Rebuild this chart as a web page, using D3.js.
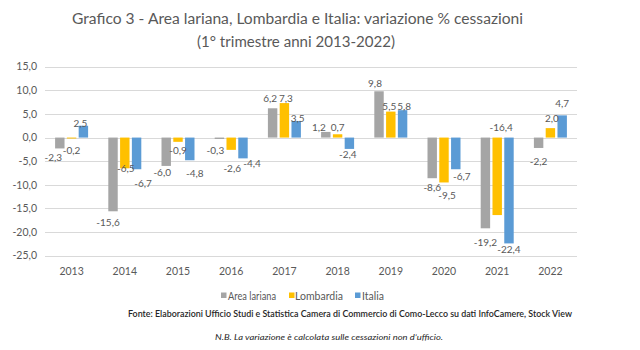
<!DOCTYPE html>
<html>
<head>
<meta charset="utf-8">
<script src="https://cdn.jsdelivr.net/npm/d3@7"></script>
<style>
  html, body { margin: 0; padding: 0; background: #fff; }
  svg { display: block; font-family: Lato, "Open Sans", sans-serif; }
</style>
</head>
<body>
<svg id="chart" width="640" height="350"></svg>
<script>
// ---- data ----
const years = ["2013","2014","2015","2016","2017","2018","2019","2020","2021","2022"];
const seriesNames = ["Area lariana", "Lombardia", "Italia"];
const areaLariana = [-2.3, -15.6, -6.0, -0.3, 6.2, 1.2, 9.8, -8.6, -19.2, -2.2];
const lombardia   = [-0.2, -6.5, -0.9, -2.6, 7.3, 0.7, 5.5, -9.5, -16.4, 2.0];
const italia      = [2.5, -6.7, -4.8, -4.4, 3.5, -2.4, 5.8, -6.7, -22.4, 4.7];
const yTicks = [-25, -20, -15, -10, -5, 0, 5, 10, 15];
const titleLines = ["Grafico 3 - Area lariana, Lombardia e Italia: variazione % cessazioni",
                    "(1° trimestre anni 2013-2022)"];
const sourceNote = "Fonte: Elaborazioni Ufficio Studi e Statistica Camera di Commercio di Como-Lecco su dati InfoCamere, Stock View";
const nbNote = "N.B. La variazione è calcolata sulle cessazioni non d’ufficio.";

// ---- layout / style ----
const colors = ["#A5A5A5", "#FFC000", "#5B9BD5"];
const textColor = "#595959";
// manual label nudges (px) relative to bar centre / bar end, mimicking the source layout
const labelNudge = [
  { dx: [-6.5,-5,-4,-4,-2.5,-7,-4,0,0,0], dy: [9,11,7,12,-10,-4,-8,9,14,14] },
  { dx: [0,1,0,1,1.5,0,-1.5,3,4,1.5],     dy: [12,0,9,19,-4.5,-7,-5,13,-87.5,-10] },
  { dx: [-3,6.5,5,9,1.5,-1.5,1.5,6,0,0],  dy: [-2,14,13,5,-2.5,6,-4,7,6,-12] }
];

const svg = d3.select("#chart");
const values = [areaLariana, lombardia, italia];

const x = d3.scaleBand().domain(years).range([45, 577]).padding(0);
const groupW = 33;
const xs = d3.scaleBand().domain(seriesNames).range([-groupW/2, groupW/2]).paddingInner(0.2);
const y = d3.scaleLinear().domain([-25, 15]).range([255.7, 66.7]);

// gridlines
svg.append("g").selectAll("line").data(yTicks).join("line")
  .attr("x1", 45).attr("x2", 577)
  .attr("y1", d => Math.round(y(d)) + 0.5).attr("y2", d => Math.round(y(d)) + 0.5)
  .attr("stroke", "#D9D9D9").attr("stroke-width", 1);

// y axis labels
const fmt = d => d3.format(".1f")(d).replace(".", ",").replace("−", "-");
svg.append("g").selectAll("text").data(yTicks).join("text")
  .attr("x", 37).attr("y", d => y(d)).attr("dy", "0.35em")
  .attr("text-anchor", "end").attr("font-size", 10.5).attr("fill", textColor)
  .text(fmt);

// x axis labels
svg.append("g").selectAll("text").data(years).join("text")
  .attr("x", d => x(d) + x.bandwidth()/2).attr("y", 271).attr("dy", "0.35em")
  .attr("text-anchor", "middle").attr("font-size", 10.5).attr("fill", textColor)
  .text(d => d);

// bars
const barData = [];
seriesNames.forEach((s, si) => years.forEach((yr, i) => barData.push({ s, si, yr, i, v: values[si][i] })));

svg.append("g").selectAll("rect").data(barData).join("rect")
  .attr("x", d => x(d.yr) + x.bandwidth()/2 + xs(d.s))
  .attr("width", xs.bandwidth())
  .attr("y", d => Math.min(y(d.v), y(0)))
  .attr("height", d => Math.abs(y(d.v) - y(0)))
  .attr("fill", d => colors[d.si]);

// data labels
svg.append("g").selectAll("text").data(barData).join("text")
  .attr("x", d => x(d.yr) + x.bandwidth()/2 + xs(d.s) + xs.bandwidth()/2 + labelNudge[d.si].dx[d.i])
  .attr("y", d => y(d.v) + labelNudge[d.si].dy[d.i])
  .attr("dy", "0.35em")
  .attr("text-anchor", "middle").attr("font-size", 10).attr("fill", textColor)
  .text(d => fmt(d.v));

// title
function fitText(sel, w) {
  sel.attr("textLength", w).attr("lengthAdjust", "spacingAndGlyphs");
}
svg.append("text").attr("x", 297.5).attr("y", 24).attr("text-anchor", "middle")
  .attr("font-size", 14.5).attr("fill", textColor).text(titleLines[0]).call(fitText, 451);
svg.append("text").attr("x", 296).attr("y", 47).attr("text-anchor", "middle")
  .attr("font-size", 14.5).attr("fill", textColor).text(titleLines[1]).call(fitText, 198);

// legend
const legendItems = [
  { name: seriesNames[0], sx: 221, tx: 228, w: 48 },
  { name: seriesNames[1], sx: 289, tx: 295, w: 48 },
  { name: seriesNames[2], sx: 355, tx: 362, w: 22 }
];
const lg = svg.append("g");
legendItems.forEach((it, i) => {
  lg.append("rect").attr("x", it.sx).attr("y", 292.5).attr("width", 5.5).attr("height", 5.5).attr("fill", colors[i]);
  lg.append("text").attr("x", it.tx).attr("y", 296).attr("dy", "0.35em")
    .attr("font-size", 10.5).attr("fill", textColor).text(it.name).call(fitText, it.w);
});

// notes
svg.append("text").attr("x", 128).attr("y", 317).attr("font-size", 8.5).attr("font-weight", 600)
  .attr("fill", "#262626").text(sourceNote).call(fitText, 444);
svg.append("text").attr("x", 215).attr("y", 340).attr("font-size", 8.5).attr("font-style", "italic")
  .attr("fill", "#262626").text(nbNote).call(fitText, 228);
</script>
</body>
</html>
